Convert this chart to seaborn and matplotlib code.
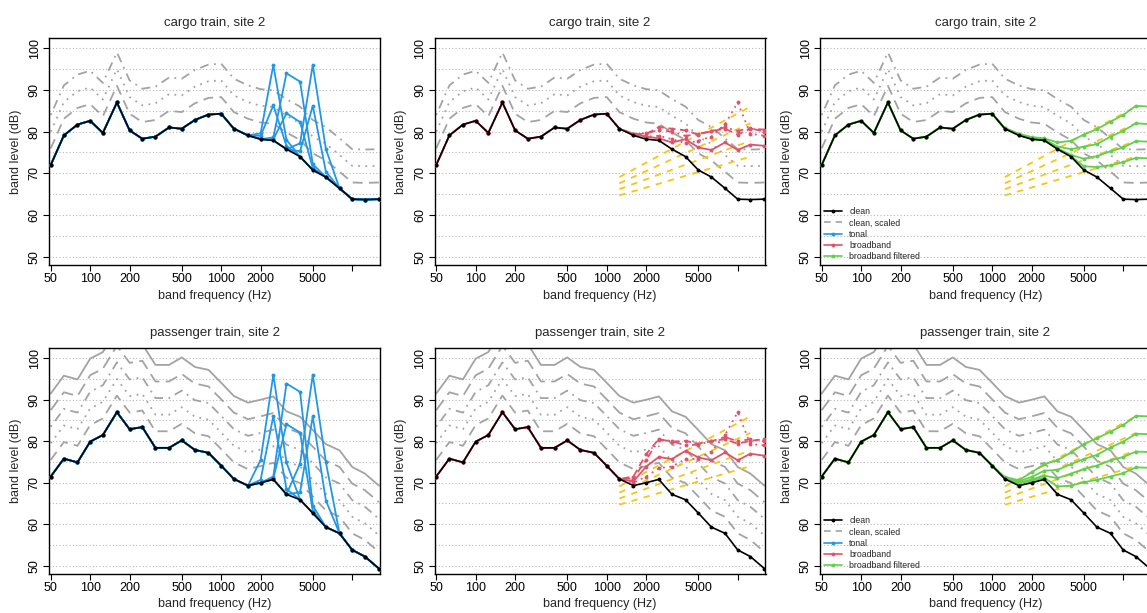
import matplotlib
matplotlib.use("Agg")
import matplotlib.pyplot as plt
import seaborn as sns
from matplotlib.lines import Line2D
from matplotlib.ticker import FixedLocator, NullLocator

sns.set_style("white")
plt.rcParams['font.family'] = ['Liberation Sans', 'DejaVu Sans']

# ---------------- data ----------------
bands = [50, 63, 80, 100, 125, 160, 200, 250, 315, 400, 500, 630, 800, 1000,
         1250, 1600, 2000, 2500, 3150, 4000, 5000, 6300, 8000, 10000, 12500, 16000]

clean_cargo = [72.0, 79.1, 81.7, 82.6, 79.7, 87.0, 80.3, 78.3, 78.8, 81.0, 80.7, 82.8, 84.1,
               84.3, 80.7, 79.1, 78.2, 77.9, 75.8, 74.0, 70.8, 69.1, 66.4, 63.8, 63.7, 63.8]
clean_pass = [71.5, 75.8, 74.9, 79.9, 81.5, 87.0, 82.9, 83.4, 78.4, 78.4, 80.2, 77.9, 77.2,
              74.1, 70.9, 69.3, 70.0, 70.8, 67.2, 65.9, 62.7, 59.3, 57.8, 53.8, 52.2, 49.3]

# clean, scaled: offsets (dB) above the clean spectrum
scaled_offsets_cargo = [4, 8, 12]
scaled_offsets_pass = [4, 8, 12, 16, 20]

# tonal: values in bands 2000 ... 6300
tonal_start, tonal_stop = 16, 22
tonal_cargo = [
    [79.6, 96.0, 78.0, 74.0, 70.8, 69.1],
    [79.0, 86.3, 76.6, 74.0, 70.8, 69.1],
    [78.2, 78.6, 94.0, 92.0, 72.2, 69.1],
    [78.2, 78.2, 84.4, 82.3, 71.3, 69.1],
    [78.2, 77.9, 75.8, 77.2, 96.0, 75.8],
    [78.2, 77.9, 75.8, 75.3, 86.2, 70.4],
]
tonal_pass = [
    [75.5, 96.0, 74.9, 65.9, 62.7, 59.3],
    [70.7, 86.1, 68.5, 65.9, 62.7, 59.3],
    [70.0, 71.5, 93.9, 91.9, 64.5, 59.3],
    [70.0, 71.0, 84.1, 82.1, 63.2, 59.3],
    [70.0, 70.8, 67.2, 74.6, 96.0, 74.9],
    [70.0, 70.8, 67.2, 67.7, 86.0, 65.7],
]

# broadband noise spectra (yellow dashed): from 1250 Hz to 12500 Hz
noise_freq = [1250, 12500]
noise_start = [69.1, 67.6, 66.2, 64.7]
noise_end = [86.0, 82.0, 77.8, 74.0]

# broadband: values in bands 1250 ... 16000
bb_start = 14
broadband_cargo = [
    [80.7, 79.4, 78.8, 78.4, 77.4, 78.2, 76.2, 75.6, 77.4, 75.6, 76.9, 76.6],
    [80.7, 79.5, 79.4, 81.1, 80.7, 80.3, 79.3, 80.1, 80.7, 79.3, 80.7, 80.5],
    [80.7, 79.3, 78.8, 79.0, 78.2, 77.2, 77.8, 78.8, 81.8, 87.0, 79.5, 79.0],
    [80.7, 79.4, 79.6, 80.4, 80.0, 79.0, 79.4, 80.2, 81.0, 80.2, 80.8, 80.0],
]
broadband_pass = [
    [70.9, 70.3, 73.9, 76.2, 75.7, 77.7, 76.1, 75.4, 77.3, 75.4, 77.0, 76.5],
    [70.9, 71.5, 76.9, 80.5, 79.9, 80.1, 79.4, 80.0, 80.5, 79.4, 80.1, 80.5],
    [70.9, 70.0, 71.5, 73.5, 73.9, 75.7, 75.8, 77.5, 81.5, 87.0, 79.3, 79.0],
    [70.9, 71.0, 75.5, 80.3, 80.0, 79.0, 79.2, 80.0, 81.0, 80.0, 80.5, 80.0],
]

# broadband filtered: values in bands 1250 ... 16000
filtered_cargo = [
    [80.9, 79.5, 78.7, 78.4, 77.4, 77.8, 79.3, 80.6, 82.4, 84.0, 86.2, 86.0],
    [80.8, 79.3, 78.5, 78.2, 76.4, 75.8, 76.4, 77.0, 78.8, 80.2, 82.0, 81.8],
    [80.7, 79.2, 78.3, 78.0, 76.0, 74.4, 73.5, 74.1, 75.3, 76.2, 77.7, 77.6],
    [80.7, 79.1, 78.2, 77.9, 75.9, 74.1, 71.7, 71.5, 71.9, 72.7, 73.7, 73.6],
]
filtered_pass = [
    [71.4, 70.6, 72.5, 74.5, 75.4, 77.3, 79.3, 80.7, 82.3, 83.9, 86.1, 86.0],
    [71.2, 70.3, 71.4, 72.9, 73.1, 74.5, 75.7, 76.7, 78.5, 79.9, 81.8, 81.7],
    [71.1, 70.0, 70.8, 71.7, 71.1, 72.2, 73.3, 74.1, 75.4, 76.2, 77.5, 77.4],
    [71.0, 69.8, 70.5, 71.2, 69.1, 69.3, 70.1, 70.7, 71.5, 72.3, 73.7, 73.6],
]

titles = ["cargo train, site 2", "passenger train, site 2"]
xticks = [50, 100, 200, 500, 1000, 2000, 5000, 10000]
xtick_labels = ["50", "100", "200", "500", "1000", "2000", "5000", ""]
yticks = [50, 60, 70, 80, 90, 100]
legend_labels = ["clean", "clean, scaled", "tonal", "broadband", "broadband filtered"]

# ---------------- style ----------------
BLACK = "#000000"
BLUE = "#2297E6"
RED = "#DF536B"
GREEN = "#61D04F"
YELLOW = "#F5C710"
GRAY = "#A3A3A3"
GRID = "#B8B8B8"

scaled_styles = {4: (0, (5.5, 3.5)), 8: (0, (1, 3)), 12: (0, (1, 3, 5, 3)),
                 16: (0, (7, 3.5)), 20: "-"}
red_styles = ["-", (0, (4, 2.5)), (0, (1, 2.5)), (0, (1, 2.5, 4, 2.5))]


def draw(ax, x, y, color, lw, ls="-", marker=None, ms=0, z=2):
    sns.lineplot(x=x, y=y, ax=ax, color=color, linewidth=lw, linestyle=ls,
                 marker=marker, markersize=ms, markeredgewidth=0,
                 markeredgecolor=color, zorder=z, sort=False, estimator=None)


fig = plt.figure(figsize=(11.47, 6.13), dpi=100)
W_px, H_px = 1147, 613
lefts = [49, 434.5, 820]
width = 331
rows = [(38.3, 265.0), (348.3, 574.0)]

for r in range(2):
    clean = clean_cargo if r == 0 else clean_pass
    offsets = scaled_offsets_cargo if r == 0 else scaled_offsets_pass
    tonal = tonal_cargo if r == 0 else tonal_pass
    bband = broadband_cargo if r == 0 else broadband_pass
    filt = filtered_cargo if r == 0 else filtered_pass
    top, bot = rows[r]
    for c in range(3):
        ax = fig.add_axes([lefts[c] / W_px, 1 - bot / H_px, width / W_px, (bot - top) / H_px])
        ax.set_xscale("log")
        # grid
        for v in range(50, 101, 5):
            ax.axhline(v, color=GRID, lw=0.8, ls=(0, (1, 2)), zorder=0)
        # clean, scaled
        for off in offsets:
            draw(ax, bands, [v + off for v in clean], GRAY, 1.3, scaled_styles[off], z=1)
        if c == 0:
            for t in tonal:
                y = clean[:tonal_start] + t + clean[tonal_stop:]
                draw(ax, bands, y, BLUE, 1.3, "-", "o", 2.8, z=3)
        else:
            for s, e in zip(noise_start, noise_end):
                draw(ax, noise_freq, [s, e], YELLOW, 1.3, (0, (3.5, 3.5)), z=2)
            if c == 1:
                for k, b in enumerate(bband):
                    y = clean[:bb_start] + b
                    draw(ax, bands, y, RED, 1.3, red_styles[k], "o", 2.8, z=3)
            else:
                for f in filt:
                    y = clean[:bb_start] + f
                    draw(ax, bands, y, GREEN, 1.3, "-", "o", 2.8, z=3)
        # clean
        draw(ax, bands, clean, BLACK, 1.2, "-", "o", 2.8, z=5)

        ax.set_xlim(48.5, 16300)
        ax.set_ylim(48, 102.4)
        ax.xaxis.set_major_locator(FixedLocator(xticks))
        ax.xaxis.set_minor_locator(NullLocator())
        ax.set_xticklabels(xtick_labels)
        ax.set_yticks(yticks)
        ax.tick_params(direction="out", length=4, width=0.8, labelsize=9, pad=2,
                       colors="black", bottom=True, left=True)
        plt.setp(ax.get_yticklabels(), rotation=90, va="center")
        for s in ax.spines.values():
            s.set_visible(True)
            s.set_color("black")
            s.set_linewidth(1.0)
        ax.set_xlabel("band frequency (Hz)", fontsize=9, labelpad=3)
        ax.set_ylabel("band level (dB)", fontsize=9, labelpad=5)
        ax.set_title(titles[r], fontsize=9.5, pad=9)

        if c == 2:
            handles = [
                Line2D([], [], color=BLACK, lw=1.2, marker="o", ms=2.8, mew=0),
                Line2D([], [], color=GRAY, lw=1.2, ls=(0, (4, 3))),
                Line2D([], [], color=BLUE, lw=1.2, marker="o", ms=2.8, mew=0),
                Line2D([], [], color=RED, lw=1.2, marker="o", ms=2.8, mew=0),
                Line2D([], [], color=GREEN, lw=1.2, marker="o", ms=2.8, mew=0),
            ]
            ax.legend(handles, legend_labels, loc="lower left", frameon=False,
                      fontsize=6.3, handlelength=2.1, handletextpad=0.8,
                      labelspacing=0.25, borderaxespad=0.15, borderpad=0.3,
                      numpoints=1)

fig.savefig("out.png", dpi=100)
